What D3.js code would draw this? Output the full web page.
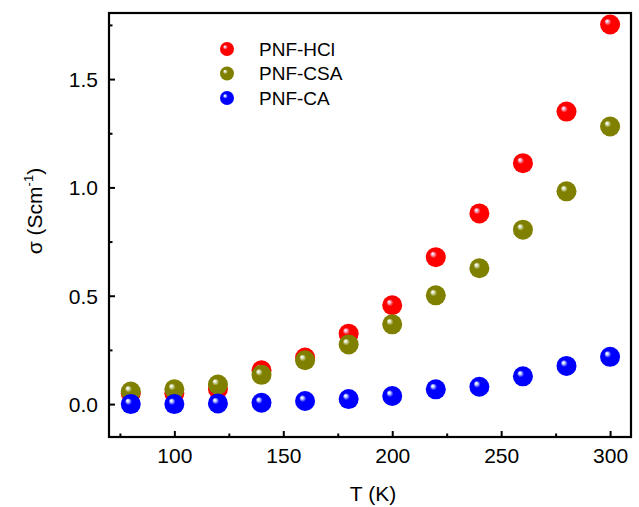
<!DOCTYPE html>
<html lang="en">
<head>
  <meta charset="UTF-8">
  <title>sigma vs T</title>
  <script src="https://d3js.org/d3.v7.min.js"></script>
  <style>
    * { padding: 0; margin: 0; }
    body { background: #fff; }
  </style>
</head>
<body>
  <div id="container"></div>
  <script>
    // data
    const temps = [80, 100, 120, 140, 160, 180, 200, 220, 240, 260, 280, 300];
    const hcl = [0.05, 0.05, 0.07, 0.156, 0.215, 0.325, 0.456, 0.678, 0.88, 1.112, 1.35, 1.752];
    const csa = [0.058, 0.068, 0.09, 0.135, 0.202, 0.275, 0.368, 0.502, 0.627, 0.805, 0.982, 1.281];
    const ca = [0.0, 0.0, 0.003, 0.006, 0.014, 0.023, 0.037, 0.068, 0.08, 0.128, 0.176, 0.218];
    const seriesNames = ["PNF-HCl", "PNF-CSA", "PNF-CA"];
    const seriesColors = ["#ff0000", "#808000", "#0000ff"];
    const seriesHighlights = ["#f0c8e0", "#e8f0d8", "#d8e8ff"];
    const xTicks = [100, 150, 200, 250, 300];
    const yTicks = [0, 0.5, 1.0, 1.5];

    const width = 639, height = 507;
    const margin = { top: 13, right: 8, bottom: 70, left: 109 };

    const x = d3.scaleLinear().domain([70, 309.6]).range([margin.left, width - margin.right]);
    const y = d3.scaleLinear().domain([-0.152, 1.805]).range([height - margin.bottom, margin.top]);

    const svg = d3.select("#container").append("svg")
      .attr("width", width)
      .attr("height", height)
      .attr("font-family", "'Liberation Sans', Arial, sans-serif");

    const defs = svg.append("defs");
    seriesColors.forEach((c, i) => {
      const g = defs.append("radialGradient")
        .attr("id", "ball" + i)
        .attr("cx", "50%").attr("cy", "50%").attr("r", "55%")
        .attr("fx", "33%").attr("fy", "32%");
      g.append("stop").attr("offset", "0%").attr("stop-color", "#ffffff");
      g.append("stop").attr("offset", "10%").attr("stop-color", seriesHighlights[i]);
      g.append("stop").attr("offset", "32%").attr("stop-color", c);
      g.append("stop").attr("offset", "100%").attr("stop-color", c);
    });

    // axes (ticks point inward)
    const fs = 21;
    const xAxis = d3.axisBottom(x).tickValues(xTicks).tickSize(-6).tickPadding(11).tickFormat(d3.format("d"));
    const xMinor = d3.axisBottom(x).tickValues([75, 125, 175, 225, 275]).tickSize(-3.5).tickFormat("");
    const yAxis = d3.axisLeft(y).tickValues(yTicks).tickSize(-6).tickPadding(11).tickFormat(d3.format(".1f"));
    const yMinor = d3.axisLeft(y).tickValues([0.25, 0.75, 1.25, 1.75]).tickSize(-3.5).tickFormat("");

    const axisBottomY = height - margin.bottom;

    [xAxis, xMinor].forEach(a => {
      const g = svg.append("g").attr("transform", `translate(0,${axisBottomY})`).call(a);
      g.select(".domain").remove();
      g.selectAll("line").attr("stroke", "#000").attr("stroke-width", 2);
      g.selectAll("text").attr("font-size", fs).attr("fill", "#000");
    });
    [yAxis, yMinor].forEach(a => {
      const g = svg.append("g").attr("transform", `translate(${margin.left},0)`).call(a);
      g.select(".domain").remove();
      g.selectAll("line").attr("stroke", "#000").attr("stroke-width", 2);
      g.selectAll("text").attr("font-size", fs).attr("fill", "#000").attr("dy", "0.35em");
    });

    // frame
    svg.append("rect")
      .attr("x", margin.left).attr("y", margin.top)
      .attr("width", width - margin.left - margin.right)
      .attr("height", height - margin.top - margin.bottom)
      .attr("fill", "none").attr("stroke", "#000").attr("stroke-width", 2.2);

    // axis titles
    svg.append("text")
      .attr("x", (margin.left + width - margin.right) / 2 + 3)
      .attr("y", 501)
      .attr("text-anchor", "middle")
      .attr("font-size", fs)
      .text("T (K)");

    const yTitle = svg.append("text")
      .attr("transform", `translate(42,211) rotate(-90)`)
      .attr("text-anchor", "middle")
      .attr("font-size", fs);
    yTitle.append("tspan").text("σ (Scm");
    yTitle.append("tspan").attr("font-size", 13).attr("dy", -9).text("-1");
    yTitle.append("tspan").attr("dy", 9).text(")");

    // points
    const allSeries = [hcl, csa, ca];
    allSeries.forEach((vals, i) => {
      svg.append("g").selectAll("circle")
        .data(temps.map((t, j) => [t, vals[j]]))
        .join("circle")
        .attr("cx", d => x(d[0]))
        .attr("cy", d => y(d[1]))
        .attr("r", 10)
        .attr("fill", `url(#ball${i})`);
    });

    // legend
    const legend = svg.append("g").attr("transform", "translate(227,49)");
    seriesNames.forEach((name, i) => {
      const row = legend.append("g").attr("transform", `translate(0,${i * 24.5})`);
      row.append("circle").attr("r", 7).attr("fill", `url(#ball${i})`);
      row.append("text").attr("x", 32).attr("dy", "0.36em")
        .attr("font-size", 19).text(name);
    });
  </script>
</body>
</html>
